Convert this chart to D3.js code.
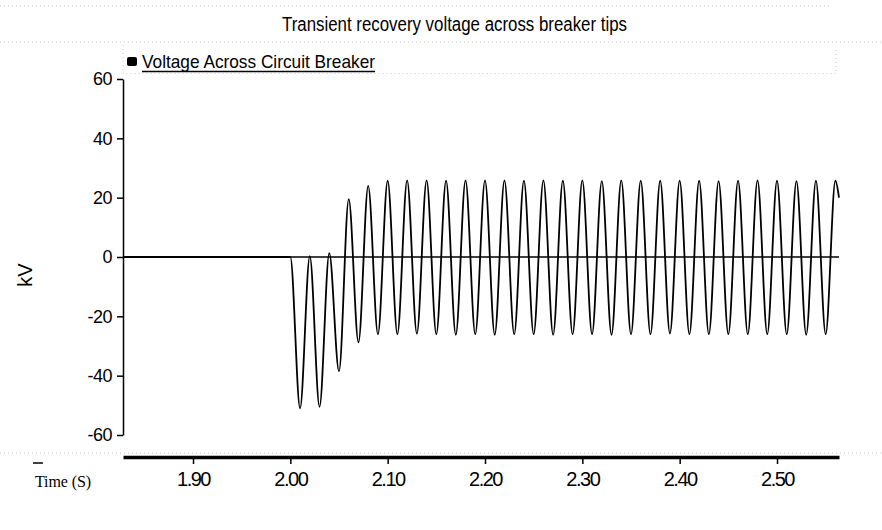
<html>
<head>
  <title>Transient recovery voltage</title>
</head>
<style>
  body {
    margin: 0;
    background: white;
  }

  #chart svg {
    display: block;
    background: white;
  }

  .narrow {
    font-family: "Liberation Sans Narrow", "Arial Narrow", "Liberation Sans", Arial, sans-serif;
  }

  .tick text {
    font-family: "Liberation Sans", Arial, sans-serif;
    fill: #000;
  }

  .faint {
    stroke: #c8c8c8;
    stroke-width: 1;
    stroke-dasharray: 1, 3;
    fill: none;
  }
</style>

<body>
  <div id="chart"></div>
</body>

<script src="https://cdn.jsdelivr.net/npm/d3@7"></script>
<script>

  // データ (時刻 s, 電圧 kV) — 波形の極値を読み取ったもの
  let times = [1.828, 2.00, 2.01, 2.02, 2.03, 2.04, 2.05, 2.06, 2.07, 2.08, 2.09,
    2.10, 2.11, 2.12, 2.13, 2.14, 2.15, 2.16, 2.17, 2.18, 2.19,
    2.20, 2.21, 2.22, 2.23, 2.24, 2.25, 2.26, 2.27, 2.28, 2.29,
    2.30, 2.31, 2.32, 2.33, 2.34, 2.35, 2.36, 2.37, 2.38, 2.39,
    2.40, 2.41, 2.42, 2.43, 2.44, 2.45, 2.46, 2.47, 2.48, 2.49,
    2.50, 2.51, 2.52, 2.53, 2.54, 2.55, 2.56, 2.5637];
  let kV = [0, 0, -51, 0.3, -50.5, 1.3, -38.5, 19.5, -28.8, 24, -26,
    25.7, -26, 25.8, -25.8, 25.8, -26, 25.7, -26.2, 25.8, -26,
    25.8, -26.2, 25.8, -26, 25.7, -26, 25.8, -26.2, 25.7, -26,
    25.8, -26, 25.6, -26.2, 25.8, -26, 25.7, -26, 25.7, -25.8,
    25.7, -26, 25.7, -26, 25.6, -26, 25.7, -26, 25.8, -26,
    25.7, -26, 25.6, -26.2, 25.7, -26, 25.7, 20];

  let xTicks = [1.90, 2.00, 2.10, 2.20, 2.30, 2.40, 2.50];
  let yTicks = [-60, -40, -20, 0, 20, 40, 60];

  let titleText = "Transient recovery voltage across breaker tips";
  let seriesName = "Voltage Across Circuit Breaker";

  let width = 882, height = 530;
  let plotLeft = 123, plotRight = 839, plotTop = 79, plotBottom = 435, axisY = 457;

  let svg = d3.select("#chart").append("svg")
    .attr("width", width)
    .attr("height", height);

  let x = d3.scaleLinear()
    .domain([1.82808, 2.5637])
    .range([plotLeft, plotRight]);

  let y = d3.scaleLinear()
    .domain([-60, 60])
    .range([plotBottom, plotTop]);

  // うすい点線 (スキャンの枠)
  svg.append("line").attr("class", "faint")
    .attr("x1", 0).attr("x2", 830).attr("y1", 6).attr("y2", 6);
  svg.append("line").attr("class", "faint")
    .attr("x1", 0).attr("x2", width).attr("y1", 42).attr("y2", 42);
  svg.append("line").attr("class", "faint")
    .attr("x1", 0).attr("x2", width).attr("y1", 453).attr("y2", 453);
  svg.append("path").attr("class", "faint")
    .attr("d", "M123,45V73.5H836V47");

  // タイトル
  svg.append("text")
    .attr("class", "narrow")
    .attr("x", 282)
    .attr("y", 31)
    .attr("font-size", 20)
    .attr("textLength", 345)
    .attr("lengthAdjust", "spacingAndGlyphs")
    .text(titleText);

  // 凡例
  svg.append("rect")
    .attr("x", 127).attr("y", 57)
    .attr("width", 10).attr("height", 9)
    .attr("rx", 2)
    .attr("fill", "#000");
  svg.append("text")
    .attr("class", "narrow")
    .attr("x", 142)
    .attr("y", 68)
    .attr("font-size", 19)
    .attr("textLength", 233)
    .attr("lengthAdjust", "spacingAndGlyphs")
    .text(seriesName);
  svg.append("line")
    .attr("x1", 142).attr("x2", 375)
    .attr("y1", 71.5).attr("y2", 71.5)
    .attr("stroke", "#000")
    .attr("stroke-width", 1.5);

  // y軸
  let yAxis = svg.append("g")
    .attr("transform", `translate(${plotLeft},0)`)
    .call(d3.axisLeft(y).tickValues(yTicks).tickFormat(d => String(d))
      .tickSize(6).tickSizeOuter(0).tickPadding(5));
  yAxis.selectAll(".tick text")
    .attr("font-size", 18)
    .attr("letter-spacing", "-0.5px");
  yAxis.selectAll("path, line").attr("stroke", "#000").attr("stroke-width", 1.5);

  // x軸
  let xAxis = svg.append("g")
    .attr("transform", `translate(0,${axisY})`)
    .call(d3.axisBottom(x).tickValues(xTicks).tickFormat(d3.format(".2f"))
      .tickSize(7).tickSizeOuter(0).tickPadding(8));
  xAxis.selectAll(".tick text")
    .attr("font-size", 20)
    .attr("letter-spacing", "-1.5px");
  xAxis.select(".domain").attr("stroke", "#000").attr("stroke-width", 3.5);
  xAxis.selectAll(".tick line").attr("stroke", "#000").attr("stroke-width", 1.5);

  // 軸ラベル
  svg.append("text")
    .attr("font-family", "'Liberation Sans', Arial, sans-serif")
    .attr("font-size", 20)
    .attr("text-anchor", "middle")
    .attr("transform", "translate(32,275) rotate(-90)")
    .text("kV");

  svg.append("line")
    .attr("x1", 33).attr("x2", 43)
    .attr("y1", 463).attr("y2", 463)
    .attr("stroke", "#000")
    .attr("stroke-width", 1.5);
  svg.append("text")
    .attr("font-family", "'Liberation Serif', 'Times New Roman', serif")
    .attr("font-size", 16)
    .attr("x", 35)
    .attr("y", 487)
    .attr("textLength", 56)
    .text("Time (S)");

  // ゼロ線
  svg.append("line")
    .attr("x1", plotLeft).attr("x2", plotRight)
    .attr("y1", y(0)).attr("y2", y(0))
    .attr("stroke", "#000")
    .attr("stroke-width", 1.5);

  // 波形
  let points = times.map((t, i) => [t, kV[i]]);
  let line = d3.line()
    .x(d => x(d[0]))
    .y(d => y(d[1]))
    .curve(d3.curveMonotoneX);

  svg.append("path")
    .datum(points)
    .attr("fill", "none")
    .attr("stroke", "#000")
    .attr("stroke-width", 1.8)
    .attr("d", line);

</script>

</html>
